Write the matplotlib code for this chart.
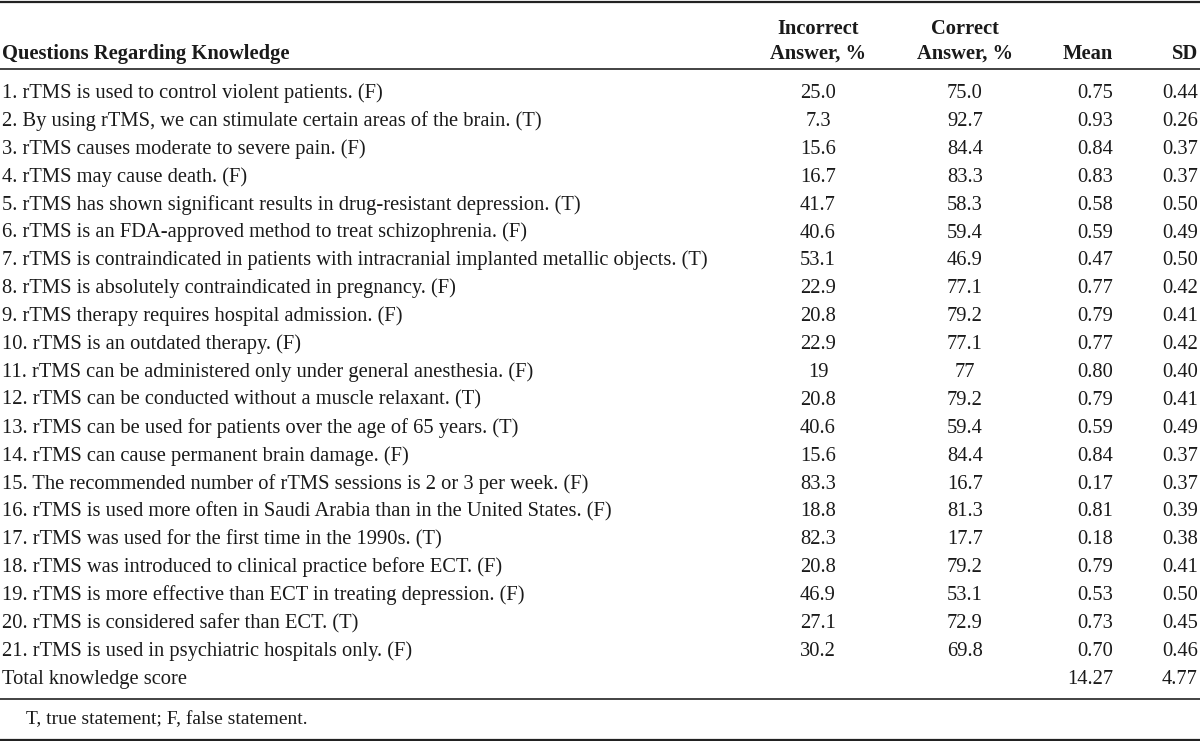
import matplotlib
matplotlib.use("Agg")
import matplotlib.pyplot as plt

questions = [
    "1. rTMS is used to control violent patients. (F)",
    "2. By using rTMS, we can stimulate certain areas of the brain. (T)",
    "3. rTMS causes moderate to severe pain. (F)",
    "4. rTMS may cause death. (F)",
    "5. rTMS has shown significant results in drug-resistant depression. (T)",
    "6. rTMS is an FDA-approved method to treat schizophrenia. (F)",
    "7. rTMS is contraindicated in patients with intracranial implanted metallic objects. (T)",
    "8. rTMS is absolutely contraindicated in pregnancy. (F)",
    "9. rTMS therapy requires hospital admission. (F)",
    "10. rTMS is an outdated therapy. (F)",
    "11. rTMS can be administered only under general anesthesia. (F)",
    "12. rTMS can be conducted without a muscle relaxant. (T)",
    "13. rTMS can be used for patients over the age of 65 years. (T)",
    "14. rTMS can cause permanent brain damage. (F)",
    "15. The recommended number of rTMS sessions is 2 or 3 per week. (F)",
    "16. rTMS is used more often in Saudi Arabia than in the United States. (F)",
    "17. rTMS was used for the first time in the 1990s. (T)",
    "18. rTMS was introduced to clinical practice before ECT. (F)",
    "19. rTMS is more effective than ECT in treating depression. (F)",
    "20. rTMS is considered safer than ECT. (T)",
    "21. rTMS is used in psychiatric hospitals only. (F)",
    "Total knowledge score",
]
incorrect = ["25.0", "7.3", "15.6", "16.7", "41.7", "40.6", "53.1", "22.9", "20.8", "22.9",
             "19", "20.8", "40.6", "15.6", "83.3", "18.8", "82.3", "20.8", "46.9", "27.1", "30.2", ""]
correct = ["75.0", "92.7", "84.4", "83.3", "58.3", "59.4", "46.9", "77.1", "79.2", "77.1",
           "77", "79.2", "59.4", "84.4", "16.7", "81.3", "17.7", "79.2", "53.1", "72.9", "69.8", ""]
mean = ["0.75", "0.93", "0.84", "0.83", "0.58", "0.59", "0.47", "0.77", "0.79", "0.77",
        "0.80", "0.79", "0.59", "0.84", "0.17", "0.81", "0.18", "0.79", "0.53", "0.73", "0.70", "14.27"]
sd = ["0.44", "0.26", "0.37", "0.37", "0.50", "0.49", "0.50", "0.42", "0.41", "0.42",
      "0.40", "0.41", "0.49", "0.37", "0.37", "0.39", "0.38", "0.41", "0.50", "0.45", "0.46", "4.77"]
footnote = "T, true statement; F, false statement."

plt.rcParams['font.family'] = ['Liberation Serif', 'DejaVu Serif']
FS = 14.8

fig = plt.figure(figsize=(12, 7.41), dpi=100)
ax = fig.add_axes([0, 0, 1, 1])
ax.set_xlim(0, 1200)
ax.set_ylim(741, 0)
ax.axis("off")

# rules
for y, lw in [(1.5, 1.6), (69, 1.2), (699, 1.2), (739.5, 1.6)]:
    ax.plot([0, 1200], [y, y], color="#222222", lw=lw, solid_capstyle="butt")

# header
hb = dict(fontsize=FS, fontweight="bold", va="baseline", color="#1a1a1a")
ax.text(2, 59, "Questions Regarding Knowledge", ha="left", **hb)
ax.text(818, 34, "Incorrect", ha="center", **hb)
ax.text(818, 59, "Answer, %", ha="center", **hb)
ax.text(965, 34, "Correct", ha="center", **hb)
ax.text(965, 59, "Answer, %", ha="center", **hb)
ax.text(1113, 59, "Mean", ha="right", **hb)
ax.text(1198, 59, "SD", ha="right", **hb)

y0, dy = 98, 27.9
for i, q in enumerate(questions):
    y = y0 + i * dy
    kw = dict(fontsize=FS, va="baseline", color="#1a1a1a")
    ax.text(2, y, q, ha="left", **kw)
    ax.text(818, y, incorrect[i], ha="center", **kw)
    ax.text(965, y, correct[i], ha="center", **kw)
    ax.text(1113, y, mean[i], ha="right", **kw)
    ax.text(1198, y, sd[i], ha="right", **kw)

ax.text(26, 724, footnote, ha="left", va="baseline", fontsize=14.0, color="#1a1a1a")

fig.savefig("out.png", dpi=100)
